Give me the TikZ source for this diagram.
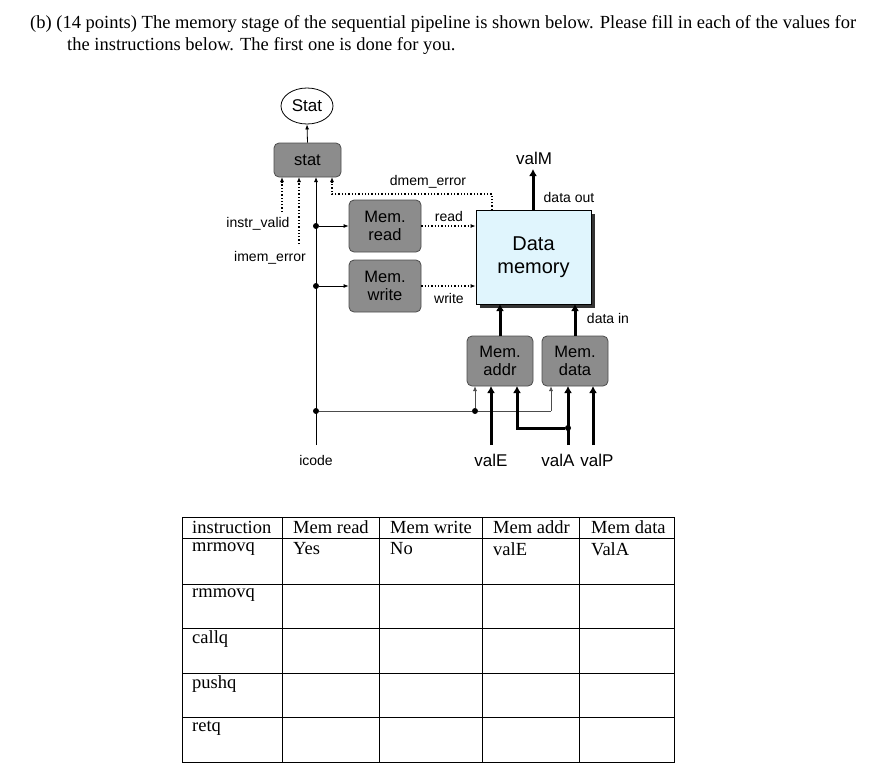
\documentclass[tikz,border=0pt]{standalone}
\usepackage{fontspec}
\setmainfont{Liberation Serif}
\newfontfamily\dsans{Liberation Sans}
\usetikzlibrary{arrows.meta,shapes.geometric}
\begin{document}
\begin{tikzpicture}[x=1pt,y=-1pt,
  gbox/.style={draw=black!70,fill=black!45,rounded corners=5pt,line width=0.8pt,align=center,font=\dsans\fontsize{16.5}{18}\selectfont,inner sep=0},
  lab/.style={font=\dsans\fontsize{14}{15}\selectfont,inner sep=1pt},
  big/.style={font=\dsans\fontsize{17}{18}\selectfont,inner sep=1pt},
  thn/.style={line width=0.8pt,-{Latex[length=5pt,width=4pt]}},
  thk/.style={line width=3pt,-{Latex[length=7pt,width=8pt]}},
  dot/.style={line width=1.3pt,dotted,-{Latex[length=5pt,width=4pt]}},
  jn/.style={circle,fill=black,inner sep=0,minimum size=6pt},
  tx/.style={font=\fontsize{18.5}{20}\selectfont,anchor=west,inner sep=0}]
\useasboundingbox (0,0) rectangle (896,763);
\node[tx] (t1) at (30,24) {(b) (14 points) The memory stage of the sequential pipeline is shown below. Please fill in each of the values for};
\node[tx] (t2) at (67,46) {the instructions below. The first one is done for you.};
% diagram
\node[draw,ellipse,minimum width=52,minimum height=36,big,line width=0.8pt] (Stat) at (307,106) {Stat};
\node[gbox,minimum width=67,minimum height=34] (stat) at (307.5,160) {stat};
\node[gbox,minimum width=72,minimum height=52] (mr) at (385,226) {Mem.\\read};
\node[gbox,minimum width=72,minimum height=52] (mw) at (385,286) {Mem.\\write};
\fill[black!80] (480,214) rectangle (595,308);
\node[draw,fill=cyan!12,minimum width=115,minimum height=94,line width=0.8pt,align=center,font=\dsans\fontsize{20}{23}\selectfont,inner sep=0] (dm) at (533.5,257) {Data\\memory};
\node[gbox,minimum width=66,minimum height=50] (ma) at (500,361) {Mem.\\addr};
\node[gbox,minimum width=66,minimum height=50] (md) at (575,361) {Mem.\\data};
\draw[thn] (stat.north) -- (Stat.south);
% icode
\coordinate (ic) at (316,445);
\node[jn] (j1) at (316,226) {};
\node[jn] (j2) at (316,286) {};
\node[jn] (j3) at (316,411) {};
\node[jn] (j4) at (475,411) {};
\draw[thn] (ic) -- (316,177);
\draw[thn] (j1) -- (mr.west);
\draw[thn] (j2) -- (mw.west);
\draw[line width=0.8pt,black!70] (j3) -- (j4) -- (551,411);
\draw[thn,black!70] (j4) -- (475,386);
\draw[thn,black!70] (551,411) -- (551,386);
\node[lab] (icl) at (316,460) {icode};
% status signals
\draw[dot] (282,212) -- (282,177);
\draw[dot] (299,244) -- (299,177);
\node[lab] (iv) at (258,224) {instr\_valid};
\node[lab] (ie) at (270,258) {imem\_error};
\draw[dot] (492,210) -- (492,194) -- (332,194) -- (332,177);
\node[lab] (de) at (428,182) {dmem\_error};
\draw[dot] (mr.east) -- (dm.west |- mr.east);
\draw[dot] (mw.east) -- (dm.west |- mw.east);
\node[lab] (rl) at (449,216) {read};
\node[lab] (wl) at (449,298) {write};
% valM
\draw[thk] (533,210) -- (533,169);
\node[big] (vm) at (534,158) {valM};
\node[lab] (do) at (569,197) {data out};
\node[lab] (di) at (608,318) {data in};
\draw[thk] (ma.north) -- (500,304);
\draw[thk] (md.north) -- (575,304);
% inputs
\coordinate (ve) at (491,445);
\coordinate (va) at (568,445);
\coordinate (vp) at (593,445);
\draw[thk] (ve) -- (491,386);
\draw[thk] (va) -- (568,386);
\draw[thk] (vp) -- (593,386);
\node[jn] (j5) at (568,428) {};
\draw[thk] (j5) -- (517,428) -- (517,386);
\node[big] (vel) at (491,460) {valE};
\node[big] (val) at (558,460) {valA};
\node[big] (vpl) at (597,460) {valP};
% table
\draw[line width=0.8pt] (182,517) rectangle (674,762);
\foreach \x in {282,379,482,579} \draw[line width=0.8pt] (\x,517) -- (\x,762);
\foreach \y in {538,584,628,673,717} \draw[line width=0.8pt] (182,\y) -- (674,\y);
\foreach \x/\t in {192/instruction,293/Mem read,390/Mem write,493/Mem addr,591/Mem data}
  \node[tx] at (\x,527) {\t};
\foreach \x/\t in {192/mrmovq,293/Yes,390/No,493/valE,591/ValA}
  \node[tx] at (\x,549) {\t};
\foreach \y/\t in {595/rmmovq,639/callq,684/pushq,728/retq}
  \node[tx] at (192,\y) {\t};
\end{tikzpicture}
\end{document}
